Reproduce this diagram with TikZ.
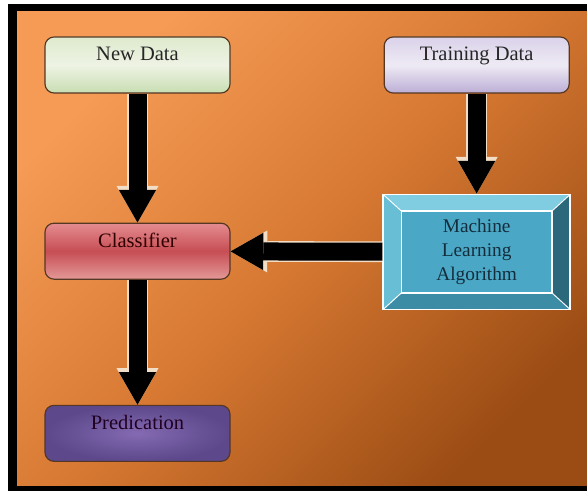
\documentclass[tikz,border=0pt]{standalone}
\usepackage{fontspec}
\setmainfont{Liberation Serif}
\usepackage{tikz}
\usetikzlibrary{arrows.meta,shapes,positioning}
\usepackage{xcolor}
% background
\definecolor{bgul}{RGB}{245,155,85}
\definecolor{bgmid}{RGB}{214,120,50}
\definecolor{bglr}{RGB}{155,76,20}
% boxes
\definecolor{boxedge}{RGB}{85,55,35}
\definecolor{ndtop}{RGB}{222,234,205}
\definecolor{ndmid}{RGB}{238,243,228}
\definecolor{ndbot}{RGB}{200,222,178}
\definecolor{tdtop}{RGB}{218,210,234}
\definecolor{tdmid}{RGB}{238,234,244}
\definecolor{tdbot}{RGB}{188,174,214}
\definecolor{cltop}{RGB}{228,140,145}
\definecolor{clmid}{RGB}{198,78,84}
\definecolor{clbot}{RGB}{228,152,152}
\definecolor{prin}{RGB}{132,106,178}
\definecolor{prout}{RGB}{92,72,138}
\definecolor{mltop}{RGB}{128,204,224}
\definecolor{mlleft}{RGB}{104,190,212}
\definecolor{mlright}{RGB}{44,104,124}
\definecolor{mlbot}{RGB}{60,140,165}
\definecolor{mlinner}{RGB}{74,168,198}
\definecolor{mltext}{RGB}{20,45,60}
\definecolor{arrowrim}{RGB}{242,222,198}
\tikzstyle{databox} = [rectangle, rounded corners=0.27cm, minimum width=5.55cm, text height=0.72cm, text depth=0.96cm, inner ysep=0pt, draw=boxedge, line width=1pt, font=\fontsize{17.5}{21}\selectfont]
\tikzstyle{bevelbox} = [rectangle, minimum width=5.61cm, minimum height=3.45cm, fill=mlinner, draw=white, line width=1.5pt, align=center, text=mltext, font=\fontsize{16.5}{20.5}\selectfont,
  path picture={
    \coordinate (nw) at (path picture bounding box.north west);
    \coordinate (ne) at (path picture bounding box.north east);
    \coordinate (sw) at (path picture bounding box.south west);
    \coordinate (se) at (path picture bounding box.south east);
    \fill[mltop] (nw) -- (ne) -- ([shift={(-0.55,-0.5)}]ne) -- ([shift={(0.55,-0.5)}]nw) -- cycle;
    \fill[mlbot] (sw) -- (se) -- ([shift={(-0.55,0.5)}]se) -- ([shift={(0.55,0.5)}]sw) -- cycle;
    \fill[mlleft] (nw) -- (sw) -- ([shift={(0.55,0.5)}]sw) -- ([shift={(0.55,-0.5)}]nw) -- cycle;
    \fill[mlright] (ne) -- (se) -- ([shift={(-0.55,0.5)}]se) -- ([shift={(-0.55,-0.5)}]ne) -- cycle;
    \draw[white, line width=0.8pt] (nw) -- ([shift={(0.55,-0.5)}]nw) (ne) -- ([shift={(-0.55,-0.5)}]ne)
      (sw) -- ([shift={(0.55,0.5)}]sw) (se) -- ([shift={(-0.55,0.5)}]se);
    \draw[white, line width=1.5pt] ([shift={(0.55,-0.5)}]nw) rectangle ([shift={(-0.55,0.5)}]se);
  }]
\tikzstyle{blockrim} = [line width=0.62cm, draw=arrowrim, -{Triangle[length=1.1cm, width=1.26cm, line width=0pt]}]
\tikzstyle{blockarrow} = [line width=0.54cm, draw=black, -{Triangle[length=0.98cm, width=1.12cm, line width=0pt]}]

\begin{document}
\begin{tikzpicture}[node distance=3cm]
\useasboundingbox (0,0) rectangle (17.61,-14.73);
% frame: left, top and bottom bars only
\fill[black] (0.24,-0.12) rectangle (0.51,-14.73);
\fill[black] (0.24,-0.12) rectangle (18,-0.36);
\fill[black] (0.24,-14.55) rectangle (18,-14.73);
\fill[bgmid] (17,-0.36) rectangle (18,-14.55);
\shade[top color=bgul, bottom color=bglr, middle color=bgmid, shading angle=45] (0.51,-0.36) rectangle (18,-14.55);

\node (newdata) [databox, top color=ndtop, bottom color=ndbot, middle color=ndmid, text=black!85] at (4.125,-1.95) {New Data};
\node (training) [databox, top color=tdtop, bottom color=tdbot, middle color=tdmid, text=black!85, right=4.59cm of newdata] {Training Data};
\node (classifier) [databox, top color=cltop, bottom color=clbot, middle color=clmid, text=black!70!red!60!black, below=3.87cm of newdata] {Classifier};
\node (predication) [databox, inner color=prin, outer color=prout, text=black!75!violet, below=3.75cm of classifier] {Predication};
\node (ml) [bevelbox, below=3cm of training] {Machine\\Learning\\Algorithm};

\draw[blockrim] (newdata) -- (classifier);
\draw[blockarrow] (newdata) -- (classifier);
\draw[blockrim] (training) -- (ml);
\draw[blockarrow] (training) -- (ml);
\draw[blockrim] (ml) -- (classifier);
\draw[blockarrow] (ml) -- (classifier);
\draw[blockrim] (classifier) -- (predication);
\draw[blockarrow] (classifier) -- (predication);
\end{tikzpicture}
\end{document}
